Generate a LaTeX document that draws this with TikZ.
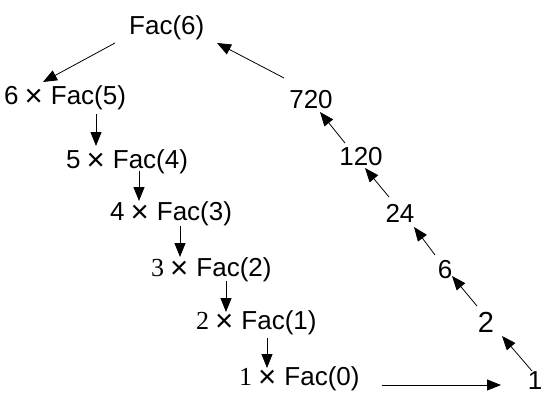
\documentclass[tikz,border=0pt]{standalone}
\usepackage{fontspec}
\setmainfont{Liberation Sans}
\newfontfamily\serifd{Liberation Serif}
\usetikzlibrary{arrows.meta}
\newcommand\mytimes{\hspace{6pt}\raisebox{-1.5pt}{\scalebox{1.2}{×}}\hspace{8pt}}
\begin{document}
\begin{tikzpicture}[x=1pt,y=-1pt,
  lab/.style={font=\fontsize{26}{30}\selectfont, inner sep=0pt, anchor=center},
  row/.style={lab, anchor=west},
  big/.style={font=\fontsize{29}{32}\selectfont, inner sep=0pt, anchor=center},
  arr/.style={-{Triangle[length=14pt,width=11pt]}, line width=0.8pt}]
\useasboundingbox (0,0) rectangle (544,394);
% left column
\node[row] (F6) at (129,28) {Fac(6)};
\node[row] (N5) at (4,98) {6\mytimes Fac(5)};
\node[row] (N4) at (66,162) {5\mytimes Fac(4)};
\node[row] (N3) at (110,214) {4\mytimes Fac(3)};
\node[row] (N2) at (151,270) {{\serifd 3}\mytimes Fac(2)};
\node[row] (N1) at (196,323) {{\serifd 2}\mytimes Fac(1)};
\node[row] (N0) at (239,379) {{\serifd 1}\mytimes Fac(0)};
% right column
\node[lab] (R720) at (311,100) {720};
\node[lab] (R120) at (361,157) {120};
\node[lab] (R24)  at (400,213) {24};
\node[lab] (R6)   at (445,270) {6};
\node[big] (R2)   at (486,322) {2};
\node[lab] (R1)   at (535,381) {1};
% arrows
\draw[arr] ([shift={(-14,15)}]F6.west) -- ([shift={(39,-16)}]N5.west);
\draw[arr] ([shift={(92,16)}]N5.west) -- ([shift={(30,-16)}]N4.west);
\draw[arr] ([shift={(73,9)}]N4.west) -- ([shift={(29,-13)}]N3.west);
\draw[arr] ([shift={(70,12)}]N3.west) -- ([shift={(29,-13)}]N2.west);
\draw[arr] ([shift={(75,11)}]N2.west) -- ([shift={(30,-11)}]N1.west);
\draw[arr] ([shift={(71,15)}]N1.west) -- ([shift={(28,-11)}]N0.west);
\draw[arr] ([shift={(143,6)}]N0.west) -- ([shift={(-34,4)}]R1.center);
\draw[arr] ([shift={(-3,-10)}]R1.center) -- ([shift={(16,14)}]R2.center);
\draw[arr] ([shift={(-9,-16)}]R2.center) -- ([shift={(7,6)}]R6.center);
\draw[arr] ([shift={(-10,-15)}]R6.center) -- ([shift={(14,14)}]R24.center);
\draw[arr] ([shift={(-11,-16)}]R24.center) -- ([shift={(4,11)}]R120.center);
\draw[arr] ([shift={(-16,-14)}]R120.center) -- ([shift={(9,12)}]R720.center);
\draw[arr] ([shift={(-27,-22)}]R720.center) -- ([shift={(88,15)}]F6.west);
\end{tikzpicture}
\end{document}
